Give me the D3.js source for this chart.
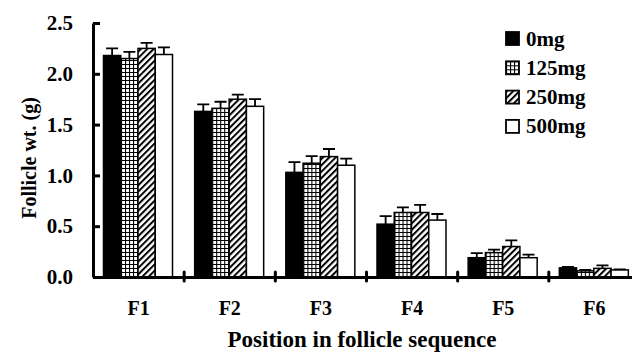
<!DOCTYPE html>
<html>
<head>
<meta charset="utf-8">
<script src="https://cdn.jsdelivr.net/npm/d3@7"></script>
<style>
  body { margin: 0; background: #fff; }
  svg text { font-family: "Liberation Serif", "Times New Roman", "DejaVu Serif", serif; font-weight: bold; }
</style>
</head>
<body>
<svg id="chart" width="632" height="354"></svg>
<script>
// Follicle weight by position, four doses
var categories = ['F1', 'F2', 'F3', 'F4', 'F5', 'F6'];
var series = ['0mg', '125mg', '250mg', '500mg'];
var values0 = [2.18, 1.63, 1.03, 0.52, 0.19, 0.09];
var values125 = [2.15, 1.66, 1.12, 0.635, 0.24, 0.06];
var values250 = [2.25, 1.75, 1.185, 0.635, 0.30, 0.085];
var values500 = [2.19, 1.68, 1.10, 0.56, 0.19, 0.07];
var err0 = [0.07, 0.07, 0.10, 0.08, 0.045, 0.01];
var err125 = [0.065, 0.065, 0.07, 0.05, 0.03, 0.01];
var err250 = [0.055, 0.045, 0.075, 0.075, 0.06, 0.03];
var err500 = [0.07, 0.07, 0.065, 0.06, 0.03, 0.005];
var yTicks = [0, 0.5, 1.0, 1.5, 2.0, 2.5];

var allValues = [values0, values125, values250, values500];
var allErr = [err0, err125, err250, err500];

var serif = '"Liberation Serif", "Times New Roman", "DejaVu Serif", serif';

var svg = d3.select('#chart');

// patterns for the fills
var defs = svg.append('defs');
var grid = defs.append('pattern')
    .attr('id', 'grid')
    .attr('patternUnits', 'userSpaceOnUse')
    .attr('width', 4).attr('height', 4);
grid.append('rect').attr('width', 4).attr('height', 4).attr('fill', '#fff');
grid.append('path').attr('d', 'M0,0.5H4M0.5,0V4').attr('stroke', '#000').attr('stroke-width', 1.2);

var hatch = defs.append('pattern')
    .attr('id', 'hatch')
    .attr('patternUnits', 'userSpaceOnUse')
    .attr('width', 4.5).attr('height', 4.5)
    .attr('patternTransform', 'rotate(45)');
hatch.append('rect').attr('width', 4.5).attr('height', 4.5).attr('fill', '#fff');
hatch.append('line').attr('x1', 1).attr('x2', 1).attr('y1', 0).attr('y2', 4.5)
    .attr('stroke', '#000').attr('stroke-width', 2);

var fills = ['#000', 'url(#grid)', 'url(#hatch)', '#fff'];

// scales
var x0 = d3.scaleBand()
    .domain(categories)
    .range([93, 640])
    .padding(0);

var x1 = d3.scaleBand()
    .domain(series)
    .range([10.5, 79.5])
    .padding(0);

var y = d3.scaleLinear()
    .domain([0, 2.5])
    .range([277, 23]);

// bars
var groups = svg.append('g').selectAll('g.cat')
    .data(categories)
    .enter().append('g')
    .attr('class', 'cat')
    .attr('transform', function(d) { return 'translate(' + x0(d) + ',0)'; });

var bars = groups.selectAll('g.bar')
    .data(function(d, i) {
        return series.map(function(s, j) {
            return {s: s, j: j, v: allValues[j][i], e: allErr[j][i]};
        });
    })
    .enter().append('g')
    .attr('class', 'bar');

bars.append('rect')
    .attr('x', function(d) { return x1(d.s); })
    .attr('y', function(d) { return y(d.v); })
    .attr('width', x1.bandwidth())
    .attr('height', function(d) { return y(0) - y(d.v); })
    .attr('fill', function(d) { return fills[d.j]; })
    .attr('stroke', '#000')
    .attr('stroke-width', 1.5);

// error bars, upper only
bars.append('path')
    .attr('d', function(d) {
        var cx = x1(d.s) + x1.bandwidth() / 2;
        var top = y(d.v + d.e);
        return 'M' + cx + ',' + y(d.v) + 'V' + top + 'M' + (cx - 6) + ',' + top + 'H' + (cx + 6);
    })
    .attr('stroke', '#000')
    .attr('stroke-width', 1.8)
    .attr('fill', 'none');

// y axis
var yAxis = svg.append('g')
    .attr('transform', 'translate(93,0)')
    .call(d3.axisLeft(y).tickValues(yTicks).tickFormat(d3.format('.1f')).tickSizeInner(-7).tickSizeOuter(0).tickPadding(20));
yAxis.attr('font-family', serif).attr('font-size', 21);
yAxis.select('.domain').attr('stroke-width', 3);
yAxis.selectAll('.tick line').attr('stroke-width', 3);
yAxis.selectAll('.tick text').attr('fill', '#000');

// x axis
var xAxis = svg.append('g')
    .attr('transform', 'translate(0,' + y(0) + ')')
    .call(d3.axisBottom(x0).tickSize(0).tickPadding(24));
xAxis.attr('font-family', serif).attr('font-size', 20);
xAxis.select('.domain').attr('stroke-width', 3);
xAxis.selectAll('.tick text').attr('fill', '#000');

// small marks between categories
xAxis.selectAll('line.sep')
    .data(categories.slice(1))
    .enter().append('line')
    .attr('class', 'sep')
    .attr('x1', function(d) { return x0(d); })
    .attr('x2', function(d) { return x0(d); })
    .attr('y1', -5).attr('y2', 4)
    .attr('stroke', '#000')
    .attr('stroke-width', 3)
    .attr('stroke-linecap', 'round');

// axis titles
svg.append('text')
    .attr('x', 362)
    .attr('y', 347)
    .attr('text-anchor', 'middle')
    .attr('font-size', 23)
    .text('Position in follicle sequence');

svg.append('text')
    .attr('transform', 'translate(36,158) rotate(-90)')
    .attr('text-anchor', 'middle')
    .attr('font-size', 20)
    .text('Follicle wt. (g)');

// legend
var legend = svg.append('g').selectAll('g.legend')
    .data(series)
    .enter().append('g')
    .attr('class', 'legend')
    .attr('transform', function(d, i) { return 'translate(506,' + (32 + i * 29.3) + ')'; });

legend.append('rect')
    .attr('width', 13).attr('height', 13)
    .attr('fill', function(d, i) { return fills[i]; })
    .attr('stroke', '#000')
    .attr('stroke-width', 1.8);

legend.append('text')
    .attr('x', 20)
    .attr('y', 13.5)
    .attr('font-size', 21)
    .text(function(d) { return d; });
</script>
</body>
</html>
